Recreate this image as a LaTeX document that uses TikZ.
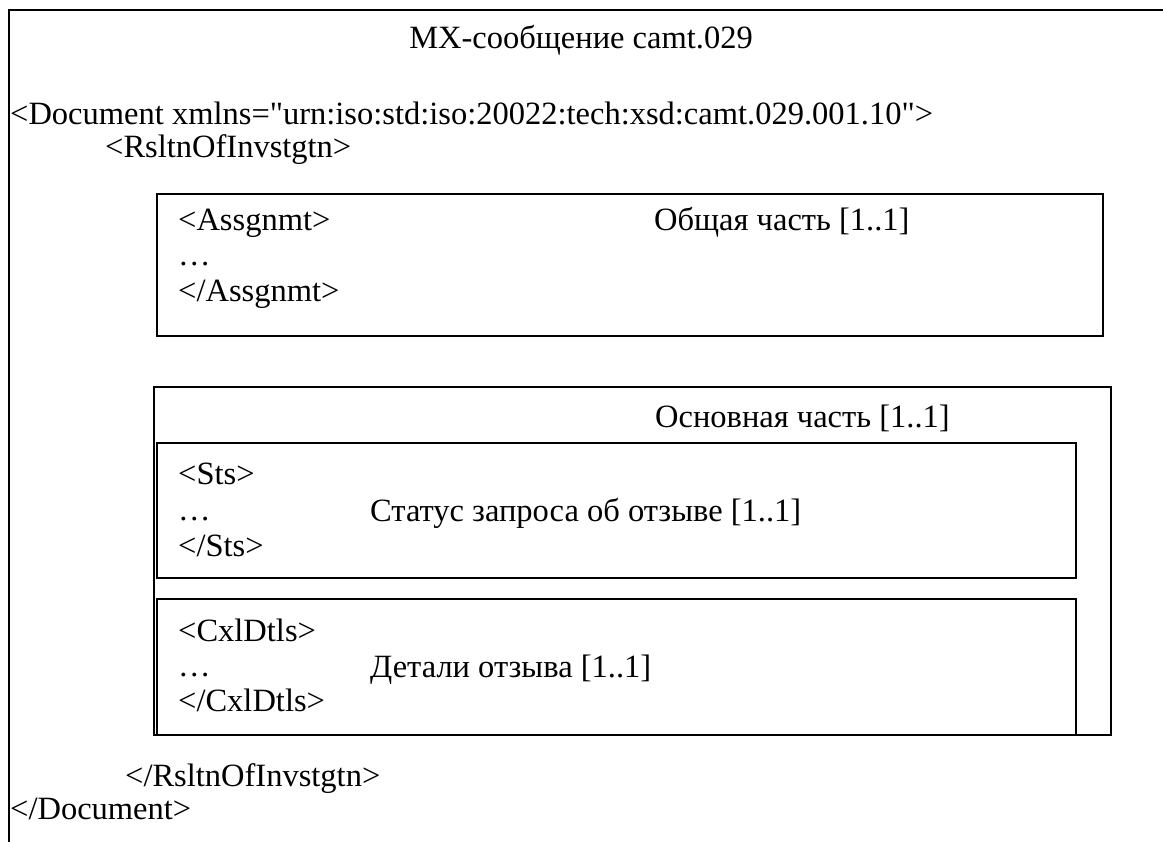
\documentclass[tikz,border=0pt]{standalone}
\usepackage{fontspec}
\setmainfont{Liberation Serif}[Ligatures=TeXOff]
\begin{document}
\begin{tikzpicture}[x=1pt,y=-1pt,
  txt/.style={anchor=base west,inner sep=0pt,font=\fontsize{32.5}{36}\selectfont},
  frame/.style={draw=black,line width=2pt},
  box/.style={draw=black,line width=2pt}]
\useasboundingbox (0,0) rectangle (1163,842);
% outer open frame
\draw[frame] (1163,10) -- (9,10) -- (9,842);
% boxes
\draw[box] (157,194) rectangle (1103,336);
\draw[box] (154,387) rectangle (1111,735);
\draw[box] (157,443) rectangle (1076,578);
\draw[box] (157,599) rectangle (1076,735);
% texts
\node[txt,anchor=base] (title) at (581,49) {MX-сообщение camt.029};
\node[txt] (doc) at (10,125) {<Document xmlns="urn:iso:std:iso:20022:tech:xsd:camt.029.001.10">};
\node[txt] (rs) at (105,158) {<RsltnOfInvstgtn>};
\node[txt] (a1) at (178,231) {<Assgnmt>};
\node[txt] (a2) at (178,266) {…};
\node[txt] (a3) at (178,302) {</Assgnmt>};
\node[txt] (al) at (654,231) {Общая часть [1..1]};
\node[txt] (ml) at (655,428) {Основная часть [1..1]};
\node[txt] (s1) at (178,485) {<Sts>};
\node[txt] (s2) at (178,520) {…};
\node[txt] (s3) at (178,556) {</Sts>};
\node[txt] (sl) at (370,521) {Статус запроса об отзыве [1..1]};
\node[txt] (c1) at (178,641) {<CxlDtls>};
\node[txt] (c2) at (178,676) {…};
\node[txt] (c3) at (178,711) {</CxlDtls>};
\node[txt] (cl) at (370,677) {Детали отзыва [1..1]};
\node[txt] (rse) at (125,786) {</RsltnOfInvstgtn>};
\node[txt] (doce) at (10,819) {</Document>};
\end{tikzpicture}
\end{document}
